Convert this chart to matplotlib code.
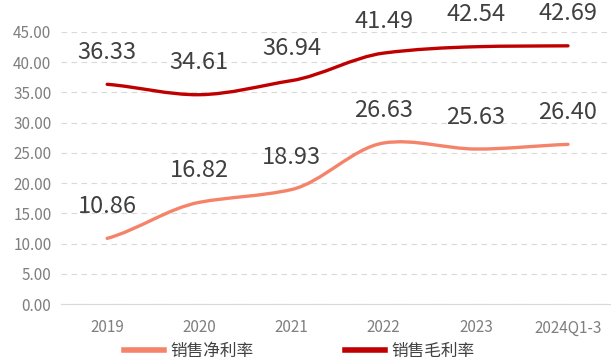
import matplotlib.pyplot as plt
from matplotlib.path import Path
from matplotlib.patches import PathPatch
from matplotlib.lines import Line2D

plt.rcParams['font.family'] = ['Noto Sans CJK SC', 'DejaVu Sans']

years = ['2019', '2020', '2021', '2022', '2023', '2024Q1-3']
net_margin = [10.86, 16.82, 18.93, 26.63, 25.63, 26.40]
gross_margin = [36.33, 34.61, 36.94, 41.49, 42.54, 42.69]

net_color = '#F4836A'
gross_color = '#C00000'


def smooth_path(ys):
    """cubic bezier through the points, catmull-rom style tangents"""
    n = len(ys)
    xs = list(range(n))
    tang = []
    for i in range(n):
        if i == 0:
            m = ys[1] - ys[0]
        elif i == n - 1:
            m = ys[-1] - ys[-2]
        else:
            m = (ys[i + 1] - ys[i - 1]) / 2
        tang.append(m * 0.7)
    verts = [(xs[0], ys[0])]
    codes = [Path.MOVETO]
    for i in range(n - 1):
        verts += [(xs[i] + 1 / 3, ys[i] + tang[i] / 3),
                  (xs[i + 1] - 1 / 3, ys[i + 1] - tang[i + 1] / 3),
                  (xs[i + 1], ys[i + 1])]
        codes += [Path.CURVE4] * 3
    return Path(verts, codes)


fig = plt.figure(figsize=(6.11, 3.62), dpi=100)
ax = fig.add_axes([0.1, 0.16, 0.905, 0.752])

for ys, col in [(net_margin, net_color), (gross_margin, gross_color)]:
    ax.add_patch(PathPatch(smooth_path(ys), facecolor='none', edgecolor=col,
                           lw=2.4, capstyle='round', zorder=3))
    for i, v in enumerate(ys):
        ax.annotate('%.2f' % v, (i, v), xytext=(0, 32), textcoords='offset pixels',
                    ha='center', va='center', fontsize=17, color='#404040')

ax.set_xlim(-0.5, 5.5)
ax.set_ylim(0, 45)
ax.set_yticks(range(0, 46, 5))
ax.set_yticklabels(['%.2f' % t for t in range(0, 46, 5)])
ax.set_xticks(range(len(years)))
ax.set_xticklabels(years)
ax.tick_params(length=0, labelsize=11, labelcolor='#7f7f7f', pad=7)
ax.tick_params(axis='x', pad=11)
ax.grid(axis='y', color='#d9d9d9', ls=(0, (5, 4)), lw=0.8)
ax.set_axisbelow(True)
for s in ['top', 'right', 'left']:
    ax.spines[s].set_visible(False)
ax.spines['bottom'].set_color('#d9d9d9')

handles = [Line2D([], [], color=net_color, lw=4),
           Line2D([], [], color=gross_color, lw=4)]
fig.legend(handles, ['销售净利率', '销售毛利率'], loc='center', ncol=2,
           bbox_to_anchor=(0.49, 0.03), frameon=False, fontsize=12,
           labelcolor='#404040', handlelength=2.4, handletextpad=0.4,
           columnspacing=5.5, borderpad=0)

fig.savefig('out.png', dpi=100)
